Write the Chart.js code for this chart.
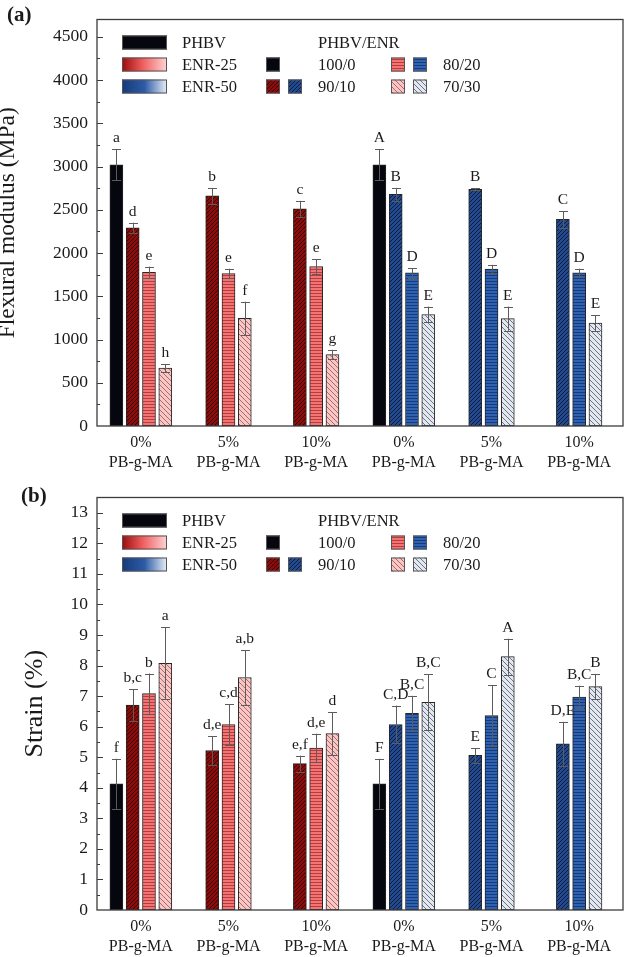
<!DOCTYPE html>
<html>
<head>
<meta charset="utf-8">
<title>PHBV/ENR flexural modulus and strain</title>
<script src="https://cdn.jsdelivr.net/npm/chart.js@4.4.1/dist/chart.umd.min.js"></script>
<style>
  html, body { margin: 0; padding: 0; background: #fff; }
  #wrap { position: relative; width: 629px; height: 957px; }
  canvas { position: absolute; left: 0; }
  #chart-a { top: 0; }
  #chart-b { top: 478px; }
</style>
</head>
<body>
<div id="wrap">
  <canvas id="chart-a" width="629" height="478"></canvas>
  <canvas id="chart-b" width="629" height="479"></canvas>
</div>
<script>
var groupLabels = [
  ["0%", "PB-g-MA"], ["5%", "PB-g-MA"], ["10%", "PB-g-MA"],
  ["0%", "PB-g-MA"], ["5%", "PB-g-MA"], ["10%", "PB-g-MA"]
];
var blendRatios = ["100/0", "90/10", "80/20", "70/30"];

// (a) flexural modulus (MPa); first three groups ENR-25, last three ENR-50
var modulus100 = [3020, null, null, 3020, null, null];
var modulus90 = [2290, 2660, 2510, 2680, 2735, 2390];
var modulus80 = [1778, 1763, 1844, 1770, 1815, 1770];
var modulus70 = [670, 1244, 826, 1289, 1241, 1189];
var modulusErr100 = [180, null, null, 180, null, null];
var modulusErr90 = [60, 93, 93, 74, 12, 96];
var modulusErr80 = [65, 55, 86, 56, 48, 49];
var modulusErr70 = [45, 193, 55, 92, 140, 89];
var modulusTag100 = ["a", null, null, "A", null, null];
var modulusTag90 = ["d", "b", "c", "B", "B", "C"];
var modulusTag80 = ["e", "e", "e", "D", "D", "D"];
var modulusTag70 = ["h", "f", "g", "E", "E", "E"];

// (b) strain (%)
var strain100 = [4.13, null, null, 4.13, null, null];
var strain90 = [6.71, 5.22, 4.79, 6.07, 5.06, 5.44];
var strain80 = [7.08, 6.07, 5.30, 6.44, 6.36, 6.97];
var strain70 = [8.07, 7.61, 5.77, 6.80, 8.29, 7.31];
var strainErr100 = [0.82, null, null, 0.82, null, null];
var strainErr90 = [0.52, 0.47, 0.26, 0.62, 0.24, 0.72];
var strainErr80 = [0.66, 0.66, 0.47, 0.57, 0.99, 0.37];
var strainErr70 = [1.18, 0.89, 0.71, 0.91, 0.59, 0.42];
var strainTag100 = ["f", null, null, "F", null, null];
var strainTag90 = ["b,c", "d,e", "e,f", "C,D", "E", "D,E"];
var strainTag80 = ["b", "c,d", "d,e", "B,C", "C", "B,C"];
var strainTag70 = ["a", "a,b", "d", "B,C", "A", "B"];

var modulusTicks = [0, 500, 1000, 1500, 2000, 2500, 3000, 3500, 4000, 4500];
var strainTicks = [0, 1, 2, 3, 4, 5, 6, 7, 8, 9, 10, 11, 12, 13];

(function () {
  var SERIF = "'Liberation Serif', 'Times New Roman', serif";
  var INK = "#1a1a1a";

  function makeHatch(bg, fg, kind, s) {
    var c = document.createElement("canvas");
    c.width = s;
    c.height = s;
    var g = c.getContext("2d");
    g.fillStyle = bg;
    g.fillRect(0, 0, s, s);
    g.strokeStyle = fg;
    g.lineWidth = 1;
    g.beginPath();
    if (kind === "h") {
      g.moveTo(0, s - 0.5);
      g.lineTo(s, s - 0.5);
    } else if (kind === "/") {
      g.moveTo(-1, s + 1); g.lineTo(s + 1, -1);
      g.moveTo(-1, 1); g.lineTo(1, -1);
      g.moveTo(s - 1, s + 1); g.lineTo(s + 1, s - 1);
    } else {
      g.moveTo(-1, -1); g.lineTo(s + 1, s + 1);
      g.moveTo(s - 1, -1); g.lineTo(s + 1, 1);
      g.moveTo(-1, s - 1); g.lineTo(1, s + 1);
    }
    g.stroke();
    return g.createPattern(c, "repeat");
  }

  var black = "#06060f";
  var red90 = makeHatch("#8c0c0c", "#3a0202", "/", 4);
  var red80 = makeHatch("#f27474", "#b83c3c", "h", 3);
  var red70 = makeHatch("#f9c6c6", "#b06868", "\\", 5);
  var blue90 = makeHatch("#234a8e", "#0c1d44", "/", 4);
  var blue80 = makeHatch("#2f62b0", "#163a7a", "h", 3);
  var blue70 = makeHatch("#e3e8f0", "#6c7484", "\\", 5);

  function split(r, b) {
    return [r, r, r, b, b, b];
  }

  function buildDatasets(values, errors, tags) {
    var fills = [split(black, black), split(red90, blue90), split(red80, blue80), split(red70, blue70)];
    return blendRatios.map(function (name, i) {
      return {
        label: name,
        data: values[i],
        errors: errors[i],
        tags: tags[i],
        backgroundColor: fills[i],
      };
    });
  }

  // major ticks from the list, one minor tick half way between each pair
  function withMinors(majors) {
    var out = [];
    majors.forEach(function (v, i) {
      out.push({ value: v, major: true });
      if (i < majors.length - 1) out.push({ value: (v + majors[i + 1]) / 2, major: false });
    });
    return out;
  }

  function box(ctx, x, y, w, h, fill) {
    ctx.fillStyle = fill;
    ctx.fillRect(x, y, w, h);
    ctx.strokeStyle = "#555";
    ctx.lineWidth = 1;
    ctx.strokeRect(x + 0.5, y + 0.5, w - 1, h - 1);
  }

  function drawLegend(ctx, a) {
    var L = a.left, T = a.top;
    var rows = [T + 16, T + 38, T + 60];
    var h = 14;

    var g25 = ctx.createLinearGradient(L + 25, 0, L + 70, 0);
    g25.addColorStop(0, "#9a0c0c");
    g25.addColorStop(0.45, "#ee5c5c");
    g25.addColorStop(1, "#ffd4d4");
    var g50 = ctx.createLinearGradient(L + 25, 0, L + 70, 0);
    g50.addColorStop(0, "#163a7a");
    g50.addColorStop(0.5, "#2d5ba6");
    g50.addColorStop(1, "#e8eef7");

    box(ctx, L + 25, rows[0], 45, h, black);
    box(ctx, L + 25, rows[1], 45, h, g25);
    box(ctx, L + 25, rows[2], 45, h, g50);

    box(ctx, L + 169, rows[1], 14, h, black);
    box(ctx, L + 169, rows[2], 14, h, red90);
    box(ctx, L + 191, rows[2], 14, h, blue90);
    box(ctx, L + 294, rows[1], 14, h, red80);
    box(ctx, L + 316, rows[1], 14, h, blue80);
    box(ctx, L + 294, rows[2], 14, h, red70);
    box(ctx, L + 316, rows[2], 14, h, blue70);

    ctx.fillStyle = INK;
    ctx.font = "16.5px " + SERIF;
    ctx.textAlign = "left";
    ctx.textBaseline = "middle";
    var mid = h / 2 + 1;
    ctx.fillText("PHBV", L + 85, rows[0] + mid);
    ctx.fillText("ENR-25", L + 85, rows[1] + mid);
    ctx.fillText("ENR-50", L + 85, rows[2] + mid);
    ctx.fillText("PHBV/ENR", L + 221, rows[0] + mid);
    ctx.fillText(blendRatios[0], L + 221, rows[1] + mid);
    ctx.fillText(blendRatios[1], L + 221, rows[2] + mid);
    ctx.fillText(blendRatios[2], L + 346, rows[1] + mid);
    ctx.fillText(blendRatios[3], L + 346, rows[2] + mid);
  }

  var panelPlugin = {
    id: "panel",
    afterDatasetsDraw: function (chart) {
      var ctx = chart.ctx;
      var y = chart.scales.y;
      ctx.save();
      chart.data.datasets.forEach(function (ds, di) {
        var meta = chart.getDatasetMeta(di);
        meta.data.forEach(function (bar, i) {
          var v = ds.data[i];
          if (v === null) return;
          var e = ds.errors[i];
          var top = y.getPixelForValue(v + e);
          var bot = y.getPixelForValue(v - e);
          var x = Math.round(bar.x) + 0.5;
          ctx.strokeStyle = "#5c5c5c";
          ctx.lineWidth = 1;
          ctx.beginPath();
          ctx.moveTo(x, top);
          ctx.lineTo(x, bot);
          ctx.moveTo(x - 4.5, Math.round(top) + 0.5);
          ctx.lineTo(x + 4.5, Math.round(top) + 0.5);
          ctx.moveTo(x - 4.5, Math.round(bot) + 0.5);
          ctx.lineTo(x + 4.5, Math.round(bot) + 0.5);
          ctx.stroke();
          ctx.fillStyle = INK;
          ctx.font = "15.5px " + SERIF;
          ctx.textAlign = "center";
          ctx.textBaseline = "alphabetic";
          ctx.fillText(ds.tags[i], bar.x, top - 7);
        });
      });
      ctx.restore();
    },
    afterDraw: function (chart) {
      var ctx = chart.ctx;
      var a = chart.chartArea;
      var y = chart.scales.y;
      var cfg = chart.options.plugins.panel;
      ctx.save();

      // frame and inward ticks
      ctx.strokeStyle = "#3c3c3c";
      ctx.lineWidth = 1.3;
      ctx.strokeRect(a.left, a.top, a.right - a.left, a.bottom - a.top);
      ctx.lineWidth = 1;
      y.ticks.forEach(function (t) {
        if (t.value <= 0 || t.value >= y.max) return;
        var py = Math.round(y.getPixelForValue(t.value)) + 0.5;
        var len = t.major ? 6 : 3;
        ctx.beginPath();
        ctx.moveTo(a.left, py);
        ctx.lineTo(a.left + len, py);
        ctx.stroke();
      });

      drawLegend(ctx, a);

      ctx.fillStyle = INK;
      ctx.font = "bold 21px " + SERIF;
      ctx.textAlign = "left";
      ctx.textBaseline = "alphabetic";
      ctx.fillText(cfg.tag, cfg.tagX, cfg.tagY);

      ctx.translate(cfg.titleX, (a.top + a.bottom) / 2);
      ctx.rotate(-Math.PI / 2);
      ctx.textAlign = "center";
      ctx.font = cfg.titleSize + "px " + SERIF;
      ctx.fillText(cfg.title, 0, 0);
      ctx.restore();
    },
  };

  function makeChart(id, opts) {
    return new Chart(document.getElementById(id), {
      type: "bar",
      data: { labels: groupLabels, datasets: opts.datasets },
      options: {
        responsive: false,
        animation: false,
        devicePixelRatio: 1,
        layout: { padding: { top: opts.top, right: 6, left: 0, bottom: 0 } },
        datasets: {
          bar: {
            barThickness: 16.3,
            maxBarThickness: 13,
            skipNull: true,
            borderWidth: 1,
            borderColor: "#262626",
            borderSkipped: false,
          },
        },
        plugins: {
          legend: { display: false },
          tooltip: { enabled: false },
          panel: opts.panel,
        },
        scales: {
          x: {
            offset: true,
            grid: { display: false },
            border: { display: false },
            ticks: {
              color: INK,
              padding: -1,
              font: { family: SERIF, size: 16, lineHeight: 1.25 },
              maxRotation: 0,
              autoSkip: false,
            },
            afterFit: function (s) {
              s.height = opts.xHeight;
            },
          },
          y: {
            min: 0,
            max: opts.max,
            grid: { display: false, drawTicks: false },
            border: { display: false },
            afterBuildTicks: function (s) {
              s.ticks = withMinors(opts.majors);
            },
            ticks: {
              autoSkip: false,
              padding: 9,
              color: INK,
              font: { family: SERIF, size: 17.5 },
              callback: function (v) {
                return opts.majors.indexOf(v) >= 0 ? String(v) : "";
              },
            },
            afterFit: function (s) {
              s.width = 97;
            },
          },
        },
      },
      plugins: [panelPlugin],
    });
  }

  makeChart("chart-a", {
    top: 3,
    xHeight: 52,
    max: 4700,
    majors: modulusTicks,
    datasets: buildDatasets(
      [modulus100, modulus90, modulus80, modulus70],
      [modulusErr100, modulusErr90, modulusErr80, modulusErr70],
      [modulusTag100, modulusTag90, modulusTag80, modulusTag70]
    ),
    panel: {
      tag: "(a)",
      tagX: 7,
      tagY: 21,
      title: "Flexural modulus (MPa)",
      titleX: 14,
      titleSize: 23.5,
    },
  });

  makeChart("chart-b", {
    top: 8,
    xHeight: 47,
    max: 13.5,
    majors: strainTicks,
    datasets: buildDatasets(
      [strain100, strain90, strain80, strain70],
      [strainErr100, strainErr90, strainErr80, strainErr70],
      [strainTag100, strainTag90, strainTag80, strainTag70]
    ),
    panel: {
      tag: "(b)",
      tagX: 21,
      tagY: 24,
      title: "Strain (%)",
      titleX: 42,
      titleSize: 26,
    },
  });
})();
</script>
</body>
</html>
